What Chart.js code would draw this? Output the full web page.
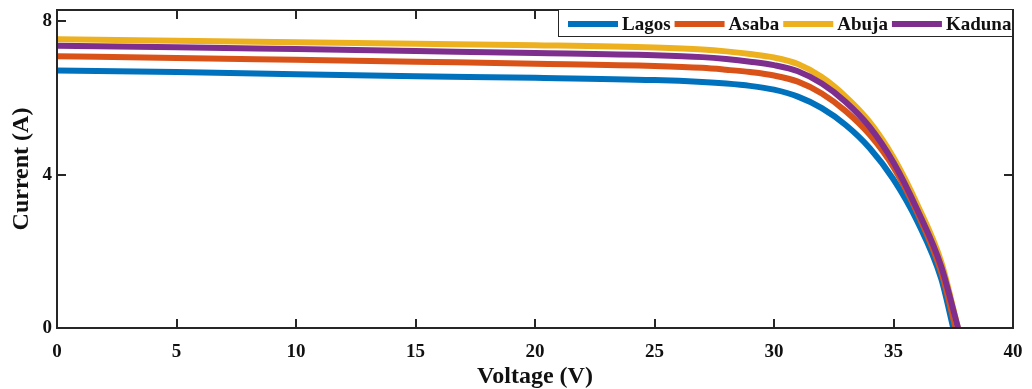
<!DOCTYPE html>
<html lang="en">
<head>
<meta charset="UTF-8">
<title>I-V curves</title>
<script src="https://cdn.jsdelivr.net/npm/chart.js"></script>
<style>
html,body{margin:0;padding:0;background:#fff}
#wrap{width:1032px;height:389px}
</style>
</head>
<body>
<div id="wrap"><canvas id="chart" width="1032" height="389"></canvas></div>
<script>
// values
const cities = ['Lagos', 'Asaba', 'Abuja', 'Kaduna'];
const colors = ['#0072BD', '#D95319', '#EDB120', '#7E2F8E'];
const voltage = [0, 5, 10, 15, 20, 25, 27, 28, 29, 30, 31, 32, 33, 34, 35, 36, 37];
const vocs = [37.5, 37.6, 37.7, 37.7]; // open circuit voltage, current = 0
const lagos = [6.72, 6.68, 6.62, 6.57, 6.53, 6.47, 6.42, 6.38, 6.32, 6.22, 6.04, 5.74, 5.30, 4.70, 3.88, 2.78, 1.28];
const asaba = [7.09, 7.05, 7.00, 6.95, 6.90, 6.84, 6.79, 6.74, 6.68, 6.59, 6.43, 6.12, 5.66, 5.05, 4.20, 3.00, 1.45];
const abuja = [7.54, 7.50, 7.46, 7.42, 7.38, 7.32, 7.27, 7.22, 7.15, 7.06, 6.89, 6.55, 6.04, 5.38, 4.45, 3.22, 1.72];
const kaduna = [7.37, 7.33, 7.28, 7.23, 7.18, 7.12, 7.07, 7.02, 6.95, 6.86, 6.70, 6.38, 5.90, 5.25, 4.32, 3.08, 1.60];
const xTicks = [0, 5, 10, 15, 20, 25, 30, 35, 40];
const yTicks = [0, 4, 8];

const FONT = '"Liberation Serif", "Times New Roman", serif';
const INK = '#262626';
const series = [lagos, asaba, abuja, kaduna];

function points(cur, voc) {
  return voltage.map((v, i) => ({ x: v, y: cur[i] })).concat([{ x: voc, y: 0 }]);
}

// MATLAB style box with inward ticks on all four sides
const framePlugin = {
  id: 'frame',
  afterDatasetsDraw(chart) {
    const { ctx, chartArea: a, scales } = chart;
    const len = 9;
    ctx.save();
    ctx.strokeStyle = INK;
    ctx.lineWidth = 2;
    ctx.beginPath();
    for (const t of scales.x.ticks) {
      const px = Math.round(scales.x.getPixelForValue(t.value));
      ctx.moveTo(px, a.bottom); ctx.lineTo(px, a.bottom - len);
      ctx.moveTo(px, a.top); ctx.lineTo(px, a.top + len);
    }
    for (const t of scales.y.ticks) {
      const py = Math.round(scales.y.getPixelForValue(t.value));
      ctx.moveTo(a.left, py); ctx.lineTo(a.left + len, py);
      ctx.moveTo(a.right, py); ctx.lineTo(a.right - len, py);
    }
    ctx.stroke();
    ctx.strokeRect(a.left, a.top, a.right - a.left, a.bottom - a.top);
    ctx.restore();
  }
};

// legend box inside the top right corner
const legendPlugin = {
  id: 'boxLegend',
  afterDraw(chart) {
    const { ctx } = chart;
    const box = { left: 558, top: 9, right: 1013, bottom: 37 };
    const cy = (box.top + box.bottom) / 2 + 1;
    ctx.save();
    ctx.fillStyle = '#fff';
    ctx.fillRect(box.left, box.top, box.right - box.left, box.bottom - box.top);
    ctx.strokeStyle = INK;
    ctx.lineWidth = 1;
    ctx.strokeRect(box.left + 0.5, box.top + 0.5, box.right - box.left - 1, box.bottom - box.top - 1);
    ctx.font = 'bold 19px ' + FONT;
    ctx.textBaseline = 'middle';
    let x = 568;
    chart.data.datasets.forEach(ds => {
      ctx.strokeStyle = ds.borderColor;
      ctx.lineWidth = 6;
      ctx.beginPath();
      ctx.moveTo(x, cy); ctx.lineTo(x + 50, cy);
      ctx.stroke();
      x += 54;
      ctx.fillStyle = '#111';
      ctx.fillText(ds.label, x, cy + 1);
      x += ctx.measureText(ds.label).width + 4;
    });
    ctx.restore();
  }
};

new Chart(document.getElementById('chart'), {
  type: 'line',
  data: {
    datasets: cities.map((c, i) => ({
      label: c,
      data: points(series[i], vocs[i]),
      borderColor: colors[i],
      backgroundColor: colors[i],
      borderWidth: 6,
      pointRadius: 0,
      fill: false,
      cubicInterpolationMode: 'monotone',
      borderJoinStyle: 'round',
      order: cities.length - i
    }))
  },
  options: {
    responsive: false,
    animation: false,
    layout: { padding: { top: 10, right: 19, left: 0, bottom: 0 } },
    plugins: { legend: { display: false }, tooltip: { enabled: false } },
    scales: {
      x: {
        type: 'linear',
        min: 0,
        max: 40,
        afterFit(s) { s.height = 61; s.paddingLeft = 0; s.paddingRight = 0; },
        afterBuildTicks(s) { s.ticks = xTicks.map(v => ({ value: v })); },
        grid: { display: false, drawTicks: false },
        border: { display: false },
        ticks: { color: '#111', padding: 13, maxRotation: 0, font: { family: FONT, size: 19, weight: 'bold' } },
        title: {
          display: true,
          text: 'Voltage (V)',
          color: '#111',
          padding: { top: 0, bottom: 0 },
          font: { family: FONT, size: 24, weight: 'bold', lineHeight: 1 }
        }
      },
      y: {
        type: 'linear',
        min: 0,
        max: 8.3,
        afterFit(s) { s.width = 57; s.paddingTop = 0; s.paddingBottom = 0; },
        afterBuildTicks(s) { s.ticks = yTicks.map(v => ({ value: v })); },
        grid: { display: false, drawTicks: false },
        border: { display: false },
        ticks: { color: '#111', padding: 5, font: { family: FONT, size: 19, weight: 'bold' } },
        title: {
          display: true,
          text: 'Current (A)',
          color: '#111',
          padding: { top: 10, bottom: 0 },
          font: { family: FONT, size: 24, weight: 'bold', lineHeight: 1 }
        }
      }
    }
  },
  plugins: [framePlugin, legendPlugin]
});
</script>
</body>
</html>
